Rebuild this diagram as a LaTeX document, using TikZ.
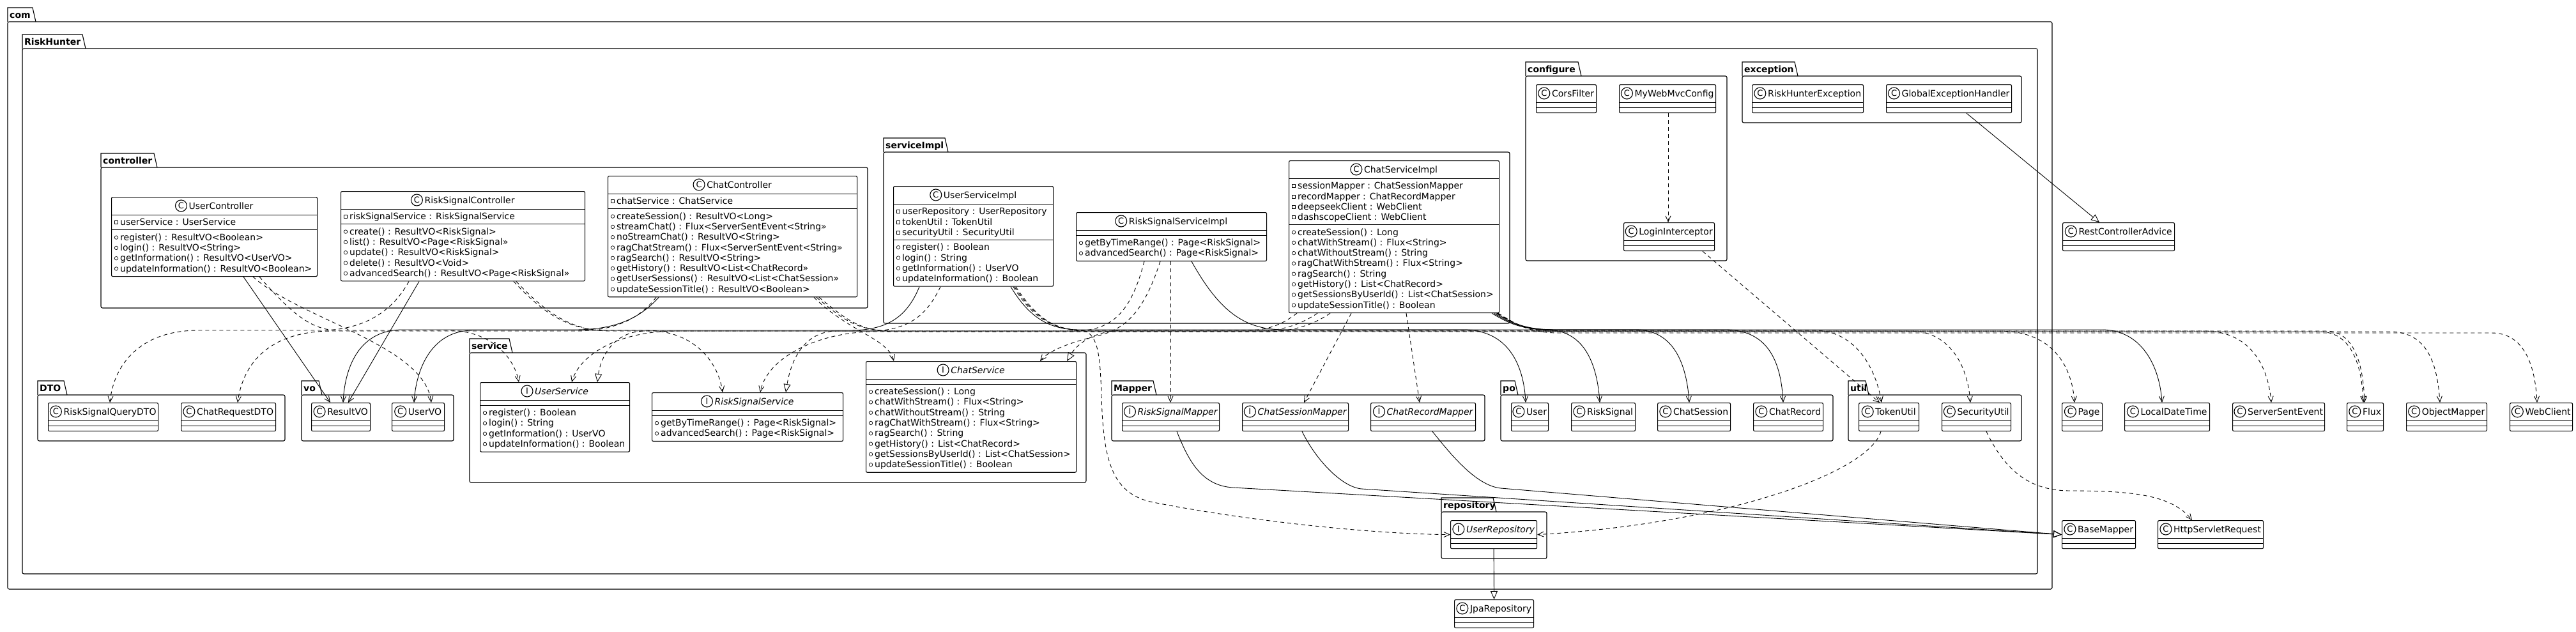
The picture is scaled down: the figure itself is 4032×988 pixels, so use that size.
\documentclass[tikz,border=0pt]{standalone}
\usepackage{fontspec}
\setmainfont{DejaVu Sans}
\usetikzlibrary{arrows.meta}
\tikzset{
 clsbox/.style={draw, fill=white, rounded corners=2pt, line width=1.1pt, inner sep=0pt},
 sepl/.style={line width=1.1pt},
 clsname/.style={font=\fontsize{14}{16}\selectfont, inner sep=0pt},
 icon/.style={draw, circle, line width=1.1pt, minimum size=18pt, inner sep=0pt, font=\fontsize{13}{13}\selectfont},
 memtxt/.style={font=\fontsize{14}{16}\selectfont, inner sep=0pt},
 mkf/.style={draw, rectangle, minimum size=5pt, inner sep=0pt, line width=0.7pt},
 mkm/.style={draw, circle, minimum size=5.5pt, inner sep=0pt, line width=0.7pt},
 pkgl/.style={line width=1.1pt},
 pkgname/.style={font=\fontsize{14}{16}\selectfont\bfseries, inner sep=0pt},
 conn/.style={line width=0.9pt},
 dep/.style={conn, dash pattern=on 6pt off 5pt, -{Straight Barb[length=9pt,width=8pt]}},
 assoc/.style={conn, -{Straight Barb[length=9pt,width=8pt]}},
 real/.style={conn, dash pattern=on 6pt off 5pt, -{Triangle[open,length=13pt,width=11pt]}},
 gen/.style={conn, -{Triangle[open,length=13pt,width=11pt]}},
}
\newcommand\cls[8]{%
 \pgfmathsetmacro\hh{28.5+#5+#6}%
 \pgfmathsetmacro\hb{28.5+#5}%
 \node[clsbox, minimum width=#4pt, minimum height=\hh pt, anchor=north west] (#1) at (#2,#3) {};
 \draw[sepl] ([yshift=-28.5pt]#1.north west) -- ([yshift=-28.5pt]#1.north east);
 \draw[sepl] ([yshift=-\hb pt]#1.north west) -- ([yshift=-\hb pt]#1.north east);
 \node[clsname, anchor=base] (#1-n) at ([xshift=10.5pt,yshift=-19pt]#1.north) {#8};
 \node[icon] (#1-i) at ([xshift=-12pt,yshift=5pt]#1-n.base west) {#7};
}
\newcommand\members[4]{%
 \foreach \t [count=\i] in {#4} {
  \pgfmathsetmacro\yy{-(#2+\i*16.3)}
  \pgfmathsetmacro\yk{\yy+4.5}
  \node[memtxt, anchor=base west] (#1-#3\i) at ([xshift=14pt,yshift=\yy pt]#1.north west) {\t};
  \node[mk#3] (#1-k#3\i) at ([xshift=8pt,yshift=\yk pt]#1.north west) {};
 }}
\newcommand\pkg[7]{%
 \draw[pkgl] (#2,#3+22) -- (#2,#3) -- (#2+#4-5,#3) -- (#2+#4,#3+22);
 \draw[pkgl, rounded corners=2.5pt] (#2,#3+22) rectangle (#5,#6);
 \node[pkgname, anchor=base west] (#1) at (#2+3,#3+16.5) {#7};
}
\begin{document}
\begin{tikzpicture}[x=1pt,y=-1pt]
\fill[white] (0,0) rectangle (4032,988);
\useasboundingbox (0,0) rectangle (4032,988);
% packages
\pkg{pcom}{12}{12}{44}{3212}{922}{com}
\pkg{prh}{35}{54}{99}{3189}{898}{RiskHunter}
\pkg{pctl}{158}{240}{88}{1358}{482}{controller}
\pkg{psi}{1383}{216}{101}{2363}{506}{serviceImpl}
\pkg{pcfg}{2388}{97}{87}{2703}{408}{configure}
\pkg{pexc}{2727}{97}{87}{3164}{192}{exception}
\pkg{pdto}{59}{596}{46}{446}{690}{DTO}
\pkg{pvo}{472}{596}{32}{710}{690}{vo}
\pkg{psvc}{735}{530}{67}{1700}{755}{service}
\pkg{pmap}{1740}{596}{70}{2324}{690}{Mapper}
\pkg{ppo}{2349}{596}{27}{2869}{690}{po}
\pkg{putil}{2893}{596}{32}{3164}{690}{util}
\pkg{prepo}{2256}{779}{86}{2421}{874}{repository}
% controller
\cls{uc}{174}{308}{322}{23.3}{72.2}{C}{UserController}
\members{uc}{28.5}{f}{userService : UserService}
\members{uc}{51.8}{m}{register() : ResultVO<Boolean>,login() : ResultVO<String>,getInformation() : ResultVO<UserVO>,updateInformation() : ResultVO<Boolean>}
\cls{rsc}{533}{299}{382}{23.3}{88.5}{C}{RiskSignalController}
\members{rsc}{28.5}{f}{riskSignalService : RiskSignalService}
\members{rsc}{51.8}{m}{create() : ResultVO<RiskSignal>,list() : ResultVO<Page<RiskSignal>>,update() : ResultVO<RiskSignal>,delete() : ResultVO<Void>,advancedSearch() : ResultVO<Page<RiskSignal>>}
\cls{cc}{951}{275}{390}{23.3}{137.4}{C}{ChatController}
\members{cc}{28.5}{f}{chatService : ChatService}
\members{cc}{51.8}{m}{createSession() : ResultVO<Long>,streamChat() : Flux<ServerSentEvent<String>>,noStreamChat() : ResultVO<String>,ragChatStream() : Flux<ServerSentEvent<String>>,ragSearch() : ResultVO<String>,getHistory() : ResultVO<List<ChatRecord>>,getUserSessions() : ResultVO<List<ChatSession>>,updateSessionTitle() : ResultVO<Boolean>}
% serviceImpl
\cls{usi}{1398}{291}{250}{55.9}{72.2}{C}{UserServiceImpl}
\members{usi}{28.5}{f}{userRepository : UserRepository,tokenUtil : TokenUtil,securityUtil : SecurityUtil}
\members{usi}{84.4}{m}{register() : Boolean,login() : String,getInformation() : UserVO,updateInformation() : Boolean}
\cls{rssi}{1684}{332}{298}{7.8}{39.6}{C}{RiskSignalServiceImpl}
\members{rssi}{36.3}{m}{getByTimeRange() : Page<RiskSignal>,advancedSearch() : Page<RiskSignal>}
\cls{csi}{2017}{251}{329}{72.2}{137.4}{C}{ChatServiceImpl}
\members{csi}{28.5}{f}{sessionMapper : ChatSessionMapper,recordMapper : ChatRecordMapper,deepseekClient : WebClient,dashscopeClient : WebClient}
\members{csi}{100.7}{m}{createSession() : Long,chatWithStream() : Flux<String>,chatWithoutStream() : String,ragChatWithStream() : Flux<String>,ragSearch() : String,getHistory() : List<ChatRecord>,getSessionsByUserId() : List<ChatSession>,updateSessionTitle() : Boolean}
% configure / exception
\cls{cors}{2404}{132}{94}{7.8}{7.8}{C}{CorsFilter}
\cls{mwmc}{2534}{132}{151}{7.8}{7.8}{C}{MyWebMvcConfig}
\cls{li}{2541}{348}{142}{7.8}{7.8}{C}{LoginInterceptor}
\cls{rhe}{2742}{132}{174}{7.8}{7.8}{C}{RiskHunterException}
\cls{geh}{2952}{132}{196}{7.8}{7.8}{C}{GlobalExceptionHandler}
\cls{rca}{3228}{348}{175}{7.8}{7.8}{C}{RestControllerAdvice}
% service
\cls{us}{751}{598}{234}{7.8}{72.2}{I}{\itshape UserService}
\members{us}{36.3}{m}{register() : Boolean,login() : String,getInformation() : UserVO,updateInformation() : Boolean}
\cls{rss}{1020}{614}{299}{7.8}{39.6}{I}{\itshape RiskSignalService}
\members{rss}{36.3}{m}{getByTimeRange() : Page<RiskSignal>,advancedSearch() : Page<RiskSignal>}
\cls{cs}{1355}{565}{329}{7.8}{137.4}{I}{\itshape ChatService}
\members{cs}{36.3}{m}{createSession() : Long,chatWithStream() : Flux<String>,chatWithoutStream() : String,ragChatWithStream() : Flux<String>,ragSearch() : String,getHistory() : List<ChatRecord>,getSessionsByUserId() : List<ChatSession>,updateSessionTitle() : Boolean}
% small classes
\cls{rsq}{75}{630}{172}{7.8}{7.8}{C}{RiskSignalQueryDTO}
\cls{crd}{283}{630}{148}{7.8}{7.8}{C}{ChatRequestDTO}
\cls{rvo}{487}{630}{92}{7.8}{7.8}{C}{ResultVO}
\cls{uvo}{613}{630}{82}{7.8}{7.8}{C}{UserVO}
\cls{rsm}{1756}{630}{152}{7.8}{7.8}{I}{\itshape RiskSignalMapper}
\cls{csm}{1944}{630}{166}{7.8}{7.8}{I}{\itshape ChatSessionMapper}
\cls{crm}{2145}{630}{164}{7.8}{7.8}{I}{\itshape ChatRecordMapper}
\cls{user}{2365}{630}{58}{7.8}{7.8}{C}{User}
\cls{rsig}{2459}{630}{100}{7.8}{7.8}{C}{RiskSignal}
\cls{cses}{2594}{630}{114}{7.8}{7.8}{C}{ChatSession}
\cls{crec}{2744}{630}{109}{7.8}{7.8}{C}{ChatRecord}
\cls{tok}{2909}{630}{94}{7.8}{7.8}{C}{TokenUtil}
\cls{sec}{3039}{630}{108}{7.8}{7.8}{C}{SecurityUtil}
\cls{page}{3227}{630}{63}{7.8}{7.8}{C}{Page}
\cls{ldt}{3325}{630}{133}{7.8}{7.8}{C}{LocalDateTime}
\cls{sse}{3494}{630}{144}{7.8}{7.8}{C}{ServerSentEvent}
\cls{flux}{3673}{630}{57}{7.8}{7.8}{C}{Flux}
\cls{om}{3766}{630}{126}{7.8}{7.8}{C}{ObjectMapper}
\cls{wc}{3928}{630}{98}{7.8}{7.8}{C}{WebClient}
\cls{urepo}{2270}{814}{135}{7.8}{7.8}{I}{\itshape UserRepository}
\cls{bm}{3227}{814}{115}{7.8}{7.8}{C}{BaseMapper}
\cls{hsr}{3377}{814}{165}{7.8}{7.8}{C}{HttpServletRequest}
\cls{jpa}{2276}{938}{124}{7.8}{7.8}{C}{JpaRepository}
% ---------------- connectors
% UserController
\draw[assoc] ([xshift=207pt]uc.south west) -- ([xshift=30pt]rvo.north west);
\draw[dep] ([xshift=222pt]uc.south west) .. controls (470,500) and (665,540) .. ([xshift=62pt]uvo.north west);
\draw[dep] ([xshift=232pt]uc.south west) .. controls (460,495) and (490,517) .. (530,517) -- (700,517) .. controls (770,517) and (805,560) .. ([xshift=61pt]us.north west);
% RiskSignalController
\draw[dep] ([xshift=107pt]rsc.south west) .. controls (610,495) and (560,517) .. (500,517) -- (310,517) .. controls (220,517) and (178,570) .. ([xshift=97pt]rsq.north west);
\draw[assoc] ([xshift=123pt]rsc.south west) -- ([xshift=58pt]rvo.north west);
\draw[dep] ([xshift=271pt]rsc.south west) .. controls (850,490) and (890,517) .. (950,517) -- (1010,517) .. controls (1090,517) and (1125,570) .. ([xshift=111pt]rss.north west);
\draw[dep] ([xshift=275pt]rsc.south west) .. controls (855,490) and (895,518) .. (955,518) -- (3130,518) .. controls (3210,518) and (3243,570) .. ([xshift=20pt]page.north west);
% ChatController
\draw[assoc] ([xshift=80pt]cc.south west) .. controls (1000,500) and (960,516) .. (900,516) -- (630,516) .. controls (565,516) and (540,570) .. ([xshift=50pt]rvo.north west);
\draw[dep] ([xshift=76pt]cc.south west) .. controls (1000,500) and (960,518) .. (900,518) -- (520,518) .. controls (420,518) and (380,570) .. ([xshift=89pt]crd.north west);
\draw[dep] ([xshift=323pt]cc.south west) .. controls (1330,520) and (1390,530) .. ([xshift=44pt]cs.north west);
\draw[dep] ([xshift=327pt]cc.south west) .. controls (1320,500) and (1340,518) .. (1400,518) -- (3450,518) .. controls (3520,518) and (3550,570) .. ([xshift=61pt]sse.north west);
\draw[dep] ([xshift=331pt]cc.south west) .. controls (1325,500) and (1345,519) .. (1405,519) -- (3630,519) .. controls (3680,519) and (3697,570) .. ([xshift=26pt]flux.north west);
% UserServiceImpl
\draw[assoc] ([xshift=41pt]usi.south west) .. controls (1420,495) and (1390,517) .. (1330,517) -- (740,517) .. controls (680,517) and (652,570) .. ([xshift=35pt]uvo.north west);
\draw[real] ([xshift=74pt]usi.south west) .. controls (1450,495) and (1420,518) .. (1360,518) -- (1010,518) .. controls (960,518) and (940,560) .. ([xshift=184pt]us.north west);
\draw[assoc] ([xshift=184pt]usi.south west) .. controls (1610,495) and (1640,516) .. (1690,516) -- (2290,516) .. controls (2360,516) and (2385,570) .. ([xshift=23pt]user.north west);
\draw[dep] ([xshift=188pt]usi.south west) .. controls (1615,495) and (1645,517) .. (1700,517) -- (2840,517) .. controls (2900,517) and (2935,570) .. ([xshift=36pt]tok.north west);
\draw[dep] ([xshift=190pt]usi.south west) .. controls (1618,495) and (1648,518) .. (1705,518) -- (2990,518) .. controls (3050,518) and (3080,570) .. ([xshift=45pt]sec.north west);
\draw[dep] ([xshift=192pt]usi.south west) .. controls (1620,495) and (1650,517) .. (1690,517) .. controls (1720,517) and (1722,560) .. (1724,620) .. controls (1727,720) and (1740,770) .. (1800,785) .. controls (1950,815) and (2150,836) .. (urepo.west);
% RiskSignalServiceImpl
\draw[real] ([xshift=107pt]rssi.south west) .. controls (1770,490) and (1740,518) .. (1680,518) -- (1310,518) .. controls (1255,518) and (1237,570) .. ([xshift=210pt]rss.north west);
\draw[dep] ([xshift=132pt]rssi.south west) .. controls (1790,490) and (1760,515) .. (1720,525) .. controls (1670,537) and (1640,550) .. ([xshift=273pt]cs.north west);
\draw[dep] ([xshift=148pt]rssi.south west) -- ([xshift=76pt]rsm.north west);
\draw[assoc] ([xshift=181pt]rssi.south west) .. controls (1910,490) and (1950,516) .. (2010,516) -- (2420,516) .. controls (2480,516) and (2500,570) .. ([xshift=45pt]rsig.north west);
% ChatServiceImpl
\draw[real] ([xshift=13pt]csi.south west) .. controls (2010,505) and (1990,517) .. (1950,517) -- (1760,517) .. controls (1710,517) and (1685,540) .. ([xshift=315pt]cs.north west);
\draw[dep] ([xshift=65pt]csi.south west) .. controls (2060,505) and (2030,519) .. (1980,519) -- (1370,519) .. controls (1280,519) and (1200,560) .. ([xshift=170pt]rss.north west);
\draw[dep] ([xshift=45pt]csi.south west) .. controls (2040,505) and (2010,518) .. (1970,518) -- (1060,518) .. controls (960,518) and (905,560) .. ([xshift=144pt]us.north west);
\draw[dep] ([xshift=98pt]csi.south west) -- ([xshift=97pt]csm.north west);
\draw[dep] ([xshift=184pt]csi.south west) -- ([xshift=77pt]crm.north west);
\draw[assoc] ([xshift=318pt]csi.south west) .. controls (2360,505) and (2380,516) .. (2430,516) -- (2560,516) .. controls (2620,516) and (2640,570) .. ([xshift=50pt]cses.north west);
\draw[assoc] ([xshift=321pt]csi.south west) .. controls (2363,505) and (2383,516) .. (2433,516) -- (2700,516) .. controls (2770,516) and (2788,570) .. ([xshift=47pt]crec.north west);
\draw[assoc] ([xshift=324pt]csi.south west) .. controls (2366,505) and (2386,516) .. (2436,516) -- (3290,516) .. controls (3350,516) and (3380,570) .. ([xshift=59pt]ldt.north west);
\draw[dep] ([xshift=326pt]csi.south west) .. controls (2368,505) and (2388,518) .. (2438,518) -- (3640,518) .. controls (3685,518) and (3699,570) .. ([xshift=28pt]flux.north west);
\draw[dep] ([xshift=327pt]csi.south west) .. controls (2369,505) and (2389,519) .. (2439,519) -- (3740,519) .. controls (3800,519) and (3815,570) .. ([xshift=53pt]om.north west);
\draw[dep] ([xshift=328pt]csi.south west) .. controls (2370,505) and (2390,521) .. (2440,521) -- (3900,521) .. controls (3950,521) and (3968,570) .. ([xshift=43pt]wc.north west);
% mappers, repository
\draw[gen] ([xshift=86pt]rsm.south west) .. controls (1860,720) and (1880,760) .. (1930,763) -- (bm.west);
\draw[gen] ([xshift=94pt]csm.south west) .. controls (2060,720) and (2100,762) .. (2131,765) -- (bm.west);
\draw[gen] ([xshift=97pt]crm.south west) .. controls (2270,710) and (2310,760) .. (2349,764) -- (bm.west);
\draw[gen] (urepo.south) -- (jpa.north);
\draw[dep] ([xshift=35pt]tok.south west) .. controls (2925,740) and (2700,820) .. (urepo.east);
% configure, exception, util
\draw[dep] ([xshift=124pt]li.south west) -- ([xshift=33pt]tok.north west);
\draw[dep] ([xshift=77pt]mwmc.south west) -- ([xshift=70pt]li.north west);
\draw[gen] ([xshift=126pt]geh.south west) -- ([xshift=58pt]rca.north west);
\draw[dep] ([xshift=70pt]sec.south west) .. controls (3140,740) and (3180,768) .. (3240,768) .. controls (3340,768) and (3400,775) .. ([xshift=54pt]hsr.north west);
\end{tikzpicture}
\end{document}
